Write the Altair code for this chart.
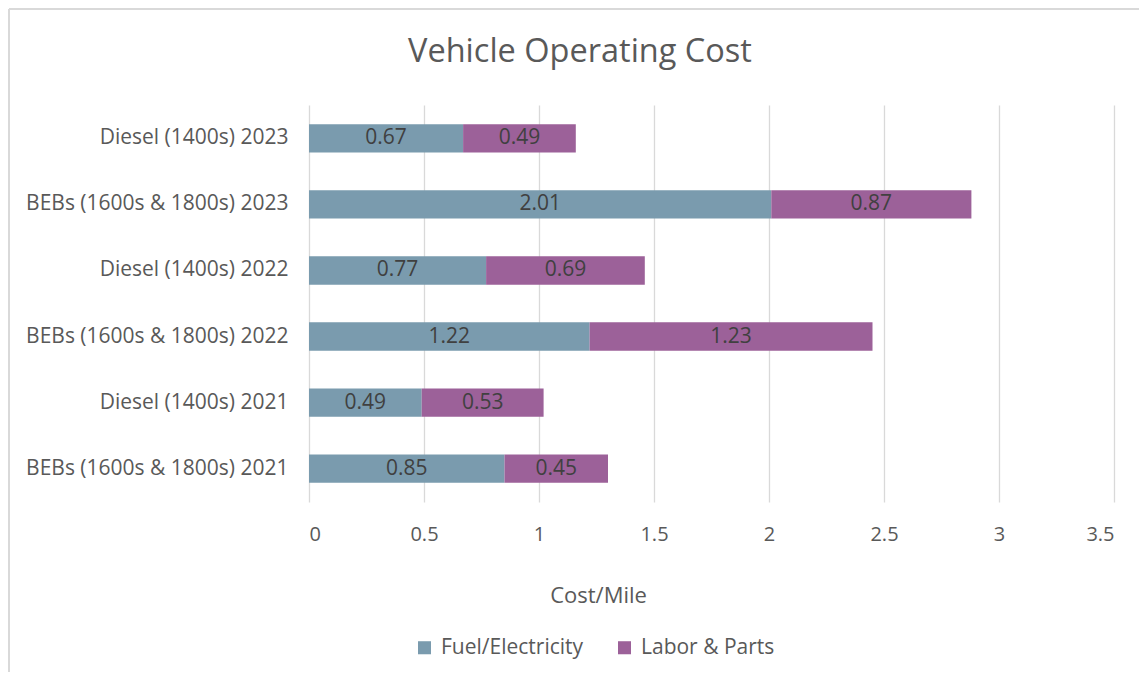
import altair as alt
import pandas as pd

categories = [
    "Diesel (1400s) 2023",
    "BEBs (1600s & 1800s) 2023",
    "Diesel (1400s) 2022",
    "BEBs (1600s & 1800s) 2022",
    "Diesel (1400s) 2021",
    "BEBs (1600s & 1800s) 2021",
]
fuel = [0.67, 2.01, 0.77, 1.22, 0.49, 0.85]
labor = [0.49, 0.87, 0.69, 1.23, 0.53, 0.45]
series = ["Fuel/Electricity", "Labor & Parts"]
colors = ["#7A9BAE", "#9C6199"]
title_text = ["Vehicle Operating Cost"]

rows = []
for c, f, l in zip(categories, fuel, labor):
    rows.append({"vehicle": c, "series": series[0], "value": f, "ord": 0})
    rows.append({"vehicle": c, "series": series[1], "value": l, "ord": 1})
df = pd.DataFrame(rows)

FONT = "Open Sans"
GREY = "#595959"
FS = 20

base = alt.Chart(df).transform_stack(
    stack="value", groupby=["vehicle"], as_=["x0", "x1"],
    sort=[alt.SortField("ord", order="ascending")],
).transform_calculate(mid="(datum.x0 + datum.x1) / 2")

y_enc = alt.Y("vehicle:N", sort=categories, title=None,
              scale=alt.Scale(paddingInner=0.57, paddingOuter=0.29),
              axis=alt.Axis(labelFont=FONT, labelFontSize=21, labelColor=GREY,
                            labelPadding=21, ticks=False, domain=False, grid=False,
                            labelLimit=400))

bars = base.mark_bar().encode(
    x=alt.X("x0:Q", scale=alt.Scale(domain=[0, 3.5]), title="Cost/Mile",
            axis=alt.Axis(values=[0, 0.5, 1, 1.5, 2, 2.5, 3, 3.5], labelExpr="datum.value + ''",
                          grid=True, gridColor="#d9d9d9", gridWidth=1.3,
                          domain=False, ticks=False, labelFont=FONT, labelFontSize=FS,
                          labelColor=GREY, labelPadding=22, titleFont=FONT,
                          titleFontSize=22, titleColor=GREY, titleFontWeight="normal",
                          titlePadding=41, titleX=289, titleAlign="center")),
    x2="x1:Q",
    y=y_enc,
    color=alt.Color("series:N", scale=alt.Scale(domain=series, range=colors),
                    legend=alt.Legend(title=None, orient="none", direction="horizontal",
                                      legendX=105, legendY=532, symbolType="square",
                                      symbolSize=170, symbolStrokeWidth=0,
                                      labelFont=FONT, labelFontSize=21, labelColor=GREY,
                                      columnPadding=30, labelOffset=6)),
)

labels = base.mark_text(font=FONT, fontSize=21, color="#404040").encode(
    x=alt.X("mid:Q"),
    y=alt.Y("vehicle:N", sort=categories),
    text=alt.Text("value:Q", format=".2f"),
)

one = alt.Chart(pd.DataFrame({"t": title_text}))
title_mark = one.mark_text(font=FONT, fontSize=32.5, color=GREY, align="center",
                           baseline="alphabetic").encode(
    x=alt.value(271), y=alt.value(-43), text="t:N")
top_line = one.mark_rule(color="#d9d9d9", strokeWidth=2).encode(
    x=alt.value(-300), x2=alt.value(830), y=alt.value(-96))
left_line = one.mark_rule(color="#d9d9d9", strokeWidth=2).encode(
    x=alt.value(-300), y=alt.value(-96), y2=alt.value(567))

chart = alt.layer(bars, labels, title_mark, top_line, left_line).properties(
    width=805, height=397,
    autosize=alt.AutoSizeParams(type="none"),
    padding={"left": 301, "top": 97, "right": 25, "bottom": 170},
).configure_view(stroke=None)

chart.save("out.html", embed_options={"renderer": "svg", "actions": False})
